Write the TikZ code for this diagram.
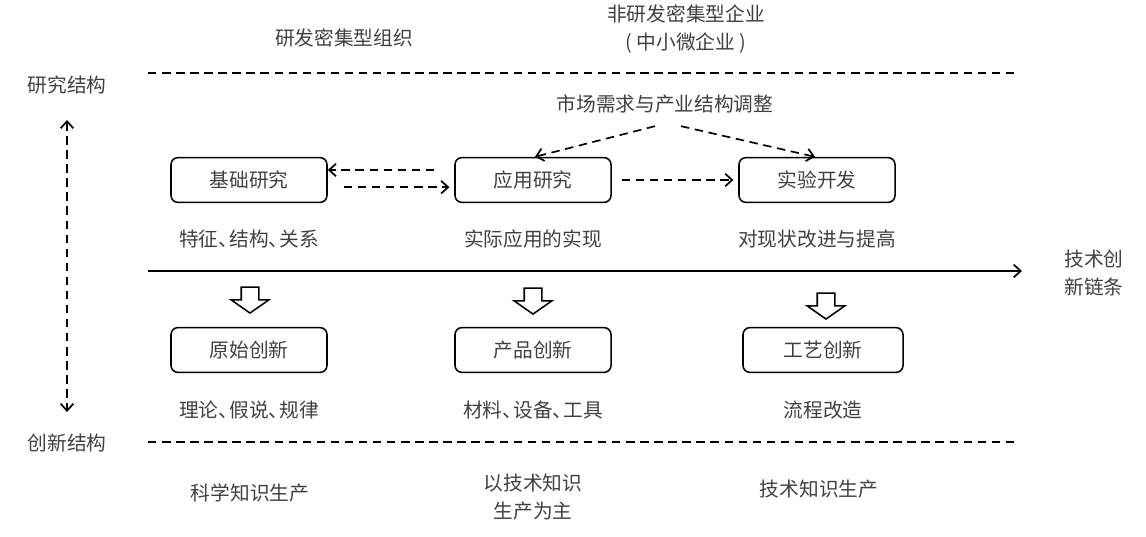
\documentclass[tikz,border=0pt]{standalone}
\usepackage{fontspec}
\setmainfont{Noto Sans CJK SC}
\usetikzlibrary{positioning}
\usetikzlibrary{arrows.meta,shapes.arrows}

\newcommand{\dun}{、\kern-0.45em}

\begin{document}
\begin{tikzpicture}
    [
    x=0.025cm, y=-0.025cm,
    node distance=1.475cm and 3cm,
    on grid,
    every node/.style={text=black!75, font=\fontsize{14pt}{17pt}\selectfont},
    stagebox/.style={draw=black, rectangle, rounded corners=5pt, line width=1.1pt, minimum width=3.9cm, minimum height=1.12cm},
    flowline/.style={draw=black, line width=1.2pt, dash pattern=on 6pt off 4pt},
    flowarrow/.style={flowline, -{Straight Barb[length=5pt,width=9pt]}},
    hollowarrow/.style={draw=black, line width=1.1pt, single arrow, shape border rotate=270, inner sep=0.2cm, minimum height=0.65cm, single arrow head extend=0.25cm, single arrow tip angle=110},
    ]
    \useasboundingbox (0,0) rectangle (1146,537);

    % header texts
    \node (txt_rd) at (344,38) {研发密集型组织};
    \node (txt_nonrd) at (686,14) {非研发密集型企业};
    \node (txt_sme) at (686,43) {( 中小微企业 )};
    \node (txt_research) at (67,85) {研究结构};
    \node (txt_innov) at (67,443) {创新结构};
    \node (txt_market) at (665,104) {市场需求与产业结构调整};

    % dashed separators
    \coordinate (top_l) at (148,73);
    \coordinate (top_r) at (1018,73);
    \coordinate (bot_l) at (148,442);
    \coordinate (bot_r) at (1018,442);
    \draw[flowline] (top_l) -- (top_r);
    \draw[flowline] (bot_l) -- (bot_r);

    % vertical axis
    \coordinate (axis_t) at (67,120);
    \coordinate (axis_b) at (67,412);
    \draw[flowarrow, {Straight Barb[length=5pt,width=9pt]}-{Straight Barb[length=5pt,width=9pt]}] (axis_t) -- (axis_b);

    % research stages
    \node[stagebox] (box_basic) at (249,180) {基础研究};
    \node[stagebox] (box_applied) at (533,180) {应用研究};
    \node[stagebox] (box_exper) at (817,180) {实验开发};

    \node[below = of box_basic] (lbl_basic) {特征\dun 结构\dun 关系};
    \node[below = of box_applied] (lbl_applied) {实际应用的实现};
    \node[below = of box_exper] (lbl_exper) {对现状改进与提高};

    \draw[flowarrow] ([yshift=0.25cm]box_applied.west) ++(-0.5cm,0) -- ([yshift=0.25cm]box_basic.east);
    \draw[flowarrow] ([yshift=-0.18cm]box_basic.east) ++(0.4cm,0) -- ([yshift=-0.18cm,xshift=-0.12cm]box_applied.west);
    \draw[flowarrow] ([xshift=0.25cm]box_applied.east) -- ([xshift=-0.12cm]box_exper.west);
    \draw[flowarrow] ([xshift=-0.25cm,yshift=-0.2cm]txt_market.south) -- ([xshift=0.05cm]box_applied.north);
    \draw[flowarrow] ([xshift=0.4cm,yshift=-0.2cm]txt_market.south) -- ([xshift=-0.05cm]box_exper.north);

    % innovation chain
    \coordinate (chain_l) at (148,271);
    \coordinate (chain_r) at (1022,271);
    \draw[line width=1.2pt, -{Straight Barb[length=5pt,width=9pt]}] (chain_l) -- (chain_r);
    \node (txt_chain1) at (1094,259) {技术创};
    \node (txt_chain2) at (1094,287) {新链条};

    \node[hollowarrow] (down_basic) at (250,297) {};
    \node[hollowarrow] (down_applied) at (533,298) {};
    \node[hollowarrow] (down_exper) at (826,303) {};

    % innovation types
    \node[stagebox] (box_orig) at (249,350) {原始创新};
    \node[stagebox] (box_prod) at (533,350) {产品创新};
    \node[stagebox, minimum width=4cm] (box_proc) at (823,350) {工艺创新};

    \node[below = 1.5cm of box_orig] (lbl_orig) {理论\dun 假说\dun 规律};
    \node[below = 1.5cm of box_prod] (lbl_prod) {材料\dun 设备\dun 工具};
    \node[below = 1.5cm of box_proc] (lbl_proc) {流程改造};

    % knowledge production
    \node (txt_sci) at (250,493) {科学知识生产};
    \node[align=center] (txt_mix) at (533,497) {以技术知识\\[3pt]生产为主};
    \node (txt_tech) at (819,489) {技术知识生产};
\end{tikzpicture}
\end{document}
